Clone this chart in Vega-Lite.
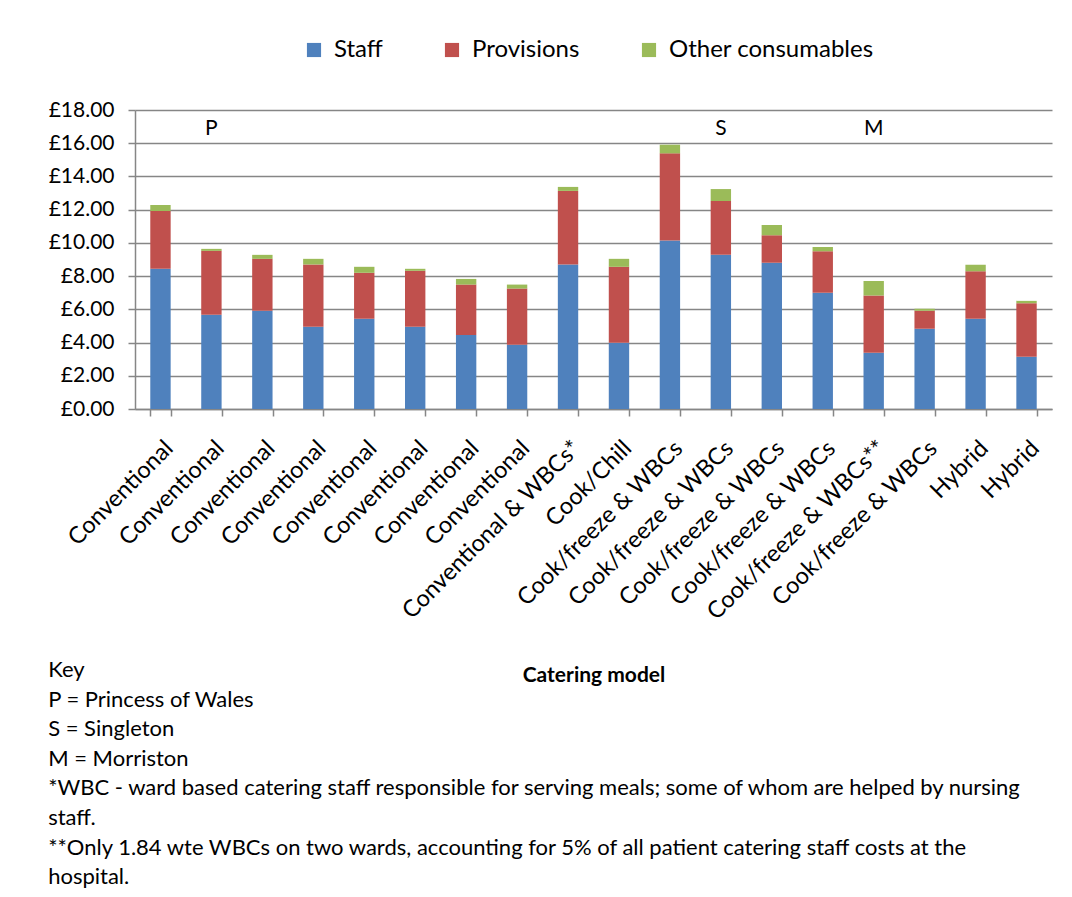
{
  "$schema": "https://vega.github.io/schema/vega-lite/v6.json",
  "width": 917,
  "height": 299,
  "autosize": {"type": "none"},
  "padding": {"left": 135, "top": 110, "right": 20, "bottom": 488},
  "background": "white",
  "config": {"view": {"stroke": null}, "font": "Lato"},
  "title": {
    "text": [
      "Key",
      "P = Princess of Wales",
      "S = Singleton",
      "M = Morriston",
      "*WBC - ward based catering staff responsible for serving meals; some of whom are helped by nursing",
      "staff.",
      "**Only 1.84 wte WBCs on two wards, accounting for 5% of all patient catering staff costs at the",
      "hospital."
    ],
    "orient": "bottom",
    "anchor": "start",
    "frame": "bounds",
    "offset": -25,
    "fontSize": 22,
    "fontWeight": "normal",
    "font": "Lato",
    "color": "#000000",
    "lineHeight": 29.6,
    "baseline": "top"
  },
  "data": {
    "values": [
      {"id": 1, "model": "Conventional", "site": "", "Staff": 8.45, "Provisions": 3.47, "Other consumables": 0.36},
      {"id": 2, "model": "Conventional", "site": "P", "Staff": 5.67, "Provisions": 3.85, "Other consumables": 0.12},
      {"id": 3, "model": "Conventional", "site": "", "Staff": 5.91, "Provisions": 3.13, "Other consumables": 0.24},
      {"id": 4, "model": "Conventional", "site": "", "Staff": 4.95, "Provisions": 3.75, "Other consumables": 0.34},
      {"id": 5, "model": "Conventional", "site": "", "Staff": 5.43, "Provisions": 2.77, "Other consumables": 0.36},
      {"id": 6, "model": "Conventional", "site": "", "Staff": 4.95, "Provisions": 3.37, "Other consumables": 0.12},
      {"id": 7, "model": "Conventional", "site": "", "Staff": 4.45, "Provisions": 3.04, "Other consumables": 0.34},
      {"id": 8, "model": "Conventional", "site": "", "Staff": 3.87, "Provisions": 3.38, "Other consumables": 0.24},
      {"id": 9, "model": "Conventional & WBCs*", "site": "", "Staff": 8.70, "Provisions": 4.43, "Other consumables": 0.24},
      {"id": 10, "model": "Cook/Chill", "site": "", "Staff": 3.99, "Provisions": 4.57, "Other consumables": 0.48},
      {"id": 11, "model": "Cook/freeze & WBCs", "site": "", "Staff": 10.14, "Provisions": 5.25, "Other consumables": 0.52},
      {"id": 12, "model": "Cook/freeze & WBCs", "site": "S", "Staff": 9.28, "Provisions": 3.24, "Other consumables": 0.72},
      {"id": 13, "model": "Cook/freeze & WBCs", "site": "", "Staff": 8.80, "Provisions": 1.66, "Other consumables": 0.62},
      {"id": 14, "model": "Cook/freeze & WBCs", "site": "", "Staff": 7.00, "Provisions": 2.50, "Other consumables": 0.26},
      {"id": 15, "model": "Cook/freeze & WBCs**", "site": "M", "Staff": 3.39, "Provisions": 3.44, "Other consumables": 0.88},
      {"id": 16, "model": "Cook/freeze & WBCs", "site": "", "Staff": 4.83, "Provisions": 1.08, "Other consumables": 0.12},
      {"id": 17, "model": "Hybrid", "site": "", "Staff": 5.43, "Provisions": 2.87, "Other consumables": 0.38},
      {"id": 18, "model": "Hybrid", "site": "", "Staff": 3.15, "Provisions": 3.22, "Other consumables": 0.14}
    ]
  },
  "resolve": {"axis": {"y": "independent", "x": "independent"}},
  "layer": [
    {
      "transform": [{"fold": ["Staff", "Provisions", "Other consumables"], "as": ["component", "cost"]}],
      "mark": {"type": "bar"},
      "encoding": {
        "x": {
          "field": "id",
          "type": "ordinal",
          "scale": {"paddingInner": 0.6, "paddingOuter": 0.3},
          "axis": {
            "title": "Catering model",
            "titleFontSize": 21,
            "titleFontWeight": "bold",
            "titleColor": "#000000",
            "titleFont": "Lato",
            "titlePadding": 55,
            "labelExpr": "['Conventional','Conventional','Conventional','Conventional','Conventional','Conventional','Conventional','Conventional','Conventional & WBCs*','Cook/Chill','Cook/freeze & WBCs','Cook/freeze & WBCs','Cook/freeze & WBCs','Cook/freeze & WBCs','Cook/freeze & WBCs**','Cook/freeze & WBCs','Hybrid','Hybrid'][datum.value - 1]",
            "labelAngle": -45,
            "labelFontSize": 23.5,
            "labelColor": "#000000",
            "labelFont": "Lato",
            "labelPadding": 20,
            "labelLimit": 0,
            "labelOverlap": false,
            "tickBand": "extent",
            "tickSize": 7,
            "tickColor": "#868686",
            "tickWidth": 1.5,
            "domainColor": "#868686",
            "domainWidth": 1.5,
            "grid": false
          }
        },
        "y": {
          "field": "cost",
          "type": "quantitative",
          "stack": "zero",
          "scale": {"domain": [0, 18], "nice": false},
          "axis": {
            "title": null,
            "values": [0, 2, 4, 6, 8, 10, 12, 14, 16, 18],
            "labelExpr": "'£' + format(datum.value, '.2f')",
            "labelFontSize": 21,
            "labelColor": "#000000",
            "labelFont": "Lato",
            "labelPadding": 14,
            "labelOverlap": false,
            "labelFlush": false,
            "tickSize": 7,
            "tickColor": "#868686",
            "tickWidth": 1.5,
            "domainColor": "#868686",
            "domainWidth": 1.5,
            "grid": true,
            "gridColor": "#868686",
            "gridWidth": 1.5
          }
        },
        "color": {
          "field": "component",
          "type": "nominal",
          "sort": ["Staff", "Provisions", "Other consumables"],
          "scale": {"domain": ["Staff", "Provisions", "Other consumables"], "range": ["#4F81BD", "#C0504D", "#9BBB59"]},
          "legend": {
            "title": null,
            "orient": "none",
            "legendX": 167,
            "legendY": -72,
            "direction": "horizontal",
            "symbolType": "square",
            "symbolSize": 200,
            "symbolStrokeWidth": 0,
            "labelFontSize": 24,
            "labelFont": "Lato",
            "labelColor": "#000000",
            "labelOffset": 8,
            "labelLimit": 0,
            "columnPadding": 57
          }
        }
      }
    },
    {
      "transform": [{"filter": "datum.site != ''"}],
      "mark": {"type": "text", "fontSize": 21, "font": "Lato", "color": "#000000"},
      "encoding": {
        "x": {"field": "id", "type": "ordinal", "axis": null},
        "y": {"datum": 16.85, "type": "quantitative", "axis": null},
        "text": {"field": "site"}
      }
    }
  ]
}
